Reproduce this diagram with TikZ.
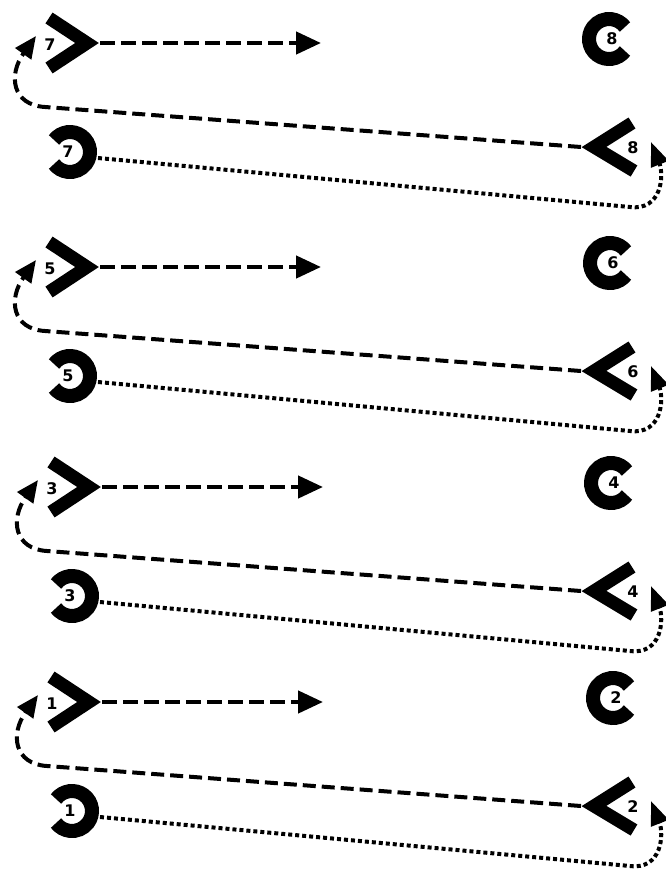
\documentclass[tikz,border=0pt]{standalone}
\usepackage{fontspec}
\newfontfamily\labfont{DejaVu Sans}
\usetikzlibrary{arrows.meta}
\tikzset{
  chev/.style={line width=13pt, line join=miter, miter limit=10, line cap=butt},
  ring/.style={line width=14pt, line cap=butt},
  lab/.style={font=\labfont\bfseries\fontsize{16}{16}\selectfont, inner sep=0pt},
  shortarr/.style={line width=4.5pt, dash pattern=on 15pt off 6pt, -{Triangle[length=25pt,width=22pt]}},
  longarr/.style={line width=4pt, dash pattern=on 13pt off 6pt, -{Triangle[length=22pt,width=19pt]}},
  dotarr/.style={line width=4pt, dash pattern=on 4pt off 3pt, -{Triangle[length=24pt,width=18pt]}},
}
\begin{document}
\begin{tikzpicture}[x=1pt,y=-1pt]
\useasboundingbox[fill=white] (0,0) rectangle (666,871);
\foreach \y/\dx/\cx/\a/\b in {43/0/609/7/8, 267/0/610/5/6, 487/2/611/3/4, 702/2/613/1/2}{
  % right-pointing chevron
  \draw[chev] (49+\dx,\y-25) -- (87+\dx,\y) -- (49+\dx,\y+25);
  \node[lab] (lg\a) at (50+\dx,\y+2) {\a};
  \coordinate (gt\a) at (100+\dx,\y);
  \coordinate (ar\a) at (321+\dx,\y);
  % C ring (opening right)
  \coordinate (cc\b) at (\cx,\y-4);
  \draw[ring] (cc\b) ++(37:20) arc[start angle=37, end angle=323, radius=20];
  \node[lab] (lc\b) at (\cx+3,\y-4) {\b};
  % reversed C ring (opening left)
  \coordinate (oc\a) at (70+\dx,\y+109);
  \draw[ring] (oc\a) ++(-143:20) arc[start angle=-143, end angle=143, radius=20];
  \node[lab] (lo\a) at (68+\dx,\y+109) {\a};
  % left-pointing chevron
  \draw[chev] (632,\y+80) -- (594,\y+104) -- (634,\y+128);
  \node[lab] (ll\b) at (633,\y+105) {\b};
  \coordinate (lt\b) at (581,\y+104);
  % connector points
  \coordinate (le\a) at (45+\dx,\y+64);
  \coordinate (lh\a) at (36+\dx,\y-7);
  \coordinate (os\a) at (98+\dx,\y+115);
  \coordinate (ob\a) at (630,\y+164);
  \coordinate (rh\b) at (651,\y+99);
  % connectors
  \draw[shortarr] (gt\a) -- (ar\a);
  \draw[longarr] (lt\b) -- (le\a) .. controls (12+\dx,\y+62) and (8+\dx,\y+32) .. (lh\a);
  \draw[dotarr] (os\a) -- (ob\a) .. controls (662,\y+168) and (664,\y+132) .. (rh\b);
}
\end{tikzpicture}
\end{document}
